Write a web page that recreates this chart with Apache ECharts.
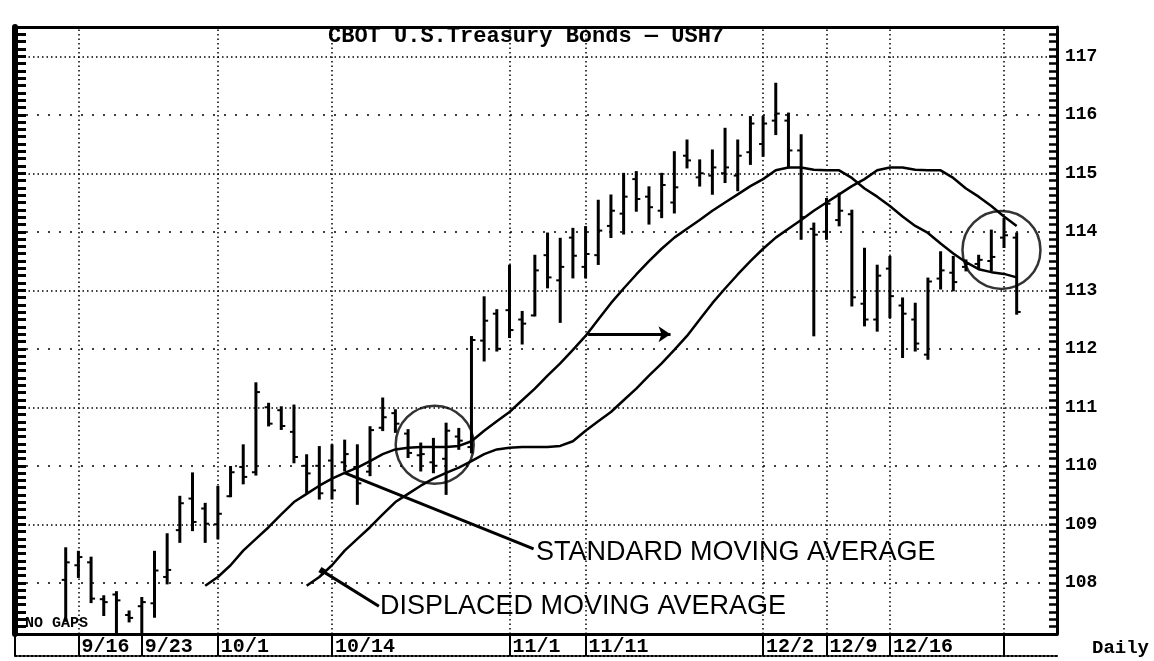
<!DOCTYPE html>
<html>
<head>
<meta charset="utf-8">
<title>CBOT U.S.Treasury Bonds — USH7</title>
<script src="https://cdn.jsdelivr.net/npm/echarts@6/dist/echarts.min.js"></script>
<style>
  html, body { margin: 0; padding: 0; background: #fff; }
  #chart { width: 1154px; height: 661px; }
</style>
</head>
<body>
<div id="chart"></div>
<script>
// trading days, one bar each (9/13 .. 12/31)
var dates = ['9/13',
  '9/16','9/17','9/18','9/19','9/20',
  '9/23','9/24','9/25','9/26','9/27',
  '9/30','10/1','10/2','10/3','10/4',
  '10/7','10/8','10/9','10/10','10/11',
  '10/14','10/15','10/16','10/17','10/18',
  '10/21','10/22','10/23','10/24','10/25',
  '10/28','10/29','10/30','10/31','11/1',
  '11/4','11/5','11/6','11/7','11/8',
  '11/11','11/12','11/13','11/14','11/15',
  '11/18','11/19','11/20','11/21','11/22',
  '11/25','11/26','11/27','11/29',
  '12/2','12/3','12/4','12/5','12/6',
  '12/9','12/10','12/11','12/12','12/13',
  '12/16','12/17','12/18','12/19','12/20',
  '12/23','12/24','12/26','12/27',
  '12/30','12/31'];

var opens = [108.05,108.30,108.35,107.72,107.80,107.45,107.60,107.65,108.10,108.90,
  109.44,109.27,109.00,109.48,109.98,109.89,111.00,110.95,110.58,110.00,
  110.00,110.09,110.06,109.98,109.90,110.65,110.90,110.55,110.18,110.06,
  110.12,110.50,110.32,112.14,112.60,112.66,112.50,112.57,113.60,113.17,
  113.90,113.40,113.60,114.10,114.31,114.90,114.60,114.36,114.50,115.30,
  114.93,114.96,115.00,114.96,115.36,115.50,115.90,115.90,115.39,114.05,
  114.00,114.20,114.30,112.77,112.50,113.37,112.74,112.50,111.90,113.20,
  113.30,113.40,113.45,113.50,113.90,113.90];
var highs = [108.59,108.53,108.43,107.77,107.84,107.51,107.74,108.53,108.83,109.47,
  109.87,109.35,109.64,109.98,110.35,111.41,111.06,111.00,111.03,110.18,
  110.32,110.35,110.43,110.35,110.66,111.15,110.95,110.61,110.38,110.46,
  110.72,110.63,112.20,112.88,112.66,113.42,112.63,113.59,113.97,113.88,
  114.05,114.08,114.53,114.62,114.99,115.02,114.76,114.99,115.36,115.56,
  115.22,115.39,115.76,115.56,115.96,115.96,116.53,116.02,115.65,114.14,
  114.56,114.65,114.36,113.71,113.42,113.57,112.86,112.77,113.20,113.65,
  113.57,113.51,113.59,114.02,114.22,113.97];
var lows = [107.35,108.10,107.67,107.45,107.15,107.34,107.15,107.42,107.99,108.70,
  108.90,108.70,108.76,109.48,109.70,109.85,110.69,110.63,110.06,109.55,
  109.44,109.44,109.92,109.35,109.84,110.61,110.58,110.15,109.92,109.89,
  109.52,110.29,110.23,111.80,111.97,112.20,112.09,112.57,113.05,112.46,
  113.22,113.22,113.45,113.91,113.97,114.36,114.14,114.25,114.33,115.10,
  114.79,114.65,114.85,114.71,115.16,115.30,115.67,115.10,113.88,112.23,
  113.88,114.11,112.74,112.40,112.31,112.54,111.86,111.97,111.83,113.03,
  113.00,113.34,113.37,113.34,113.74,112.60];
var closes = [108.35,108.44,107.73,107.67,107.70,107.40,107.67,108.21,108.22,109.36,
  109.04,109.01,109.18,109.89,109.81,111.26,110.72,110.68,110.15,109.87,
  109.53,109.58,110.20,109.70,110.61,110.83,110.72,110.22,110.20,110.00,
  110.60,110.43,112.15,112.48,112.00,112.32,112.43,113.34,113.22,113.40,
  113.59,113.62,114.02,114.36,114.60,114.56,114.42,114.80,114.76,115.22,
  115.00,115.10,115.10,115.30,115.85,115.85,116.02,115.39,114.25,113.95,
  114.48,114.36,112.88,112.50,113.25,112.90,112.60,112.09,113.15,113.34,
  113.14,113.45,113.52,113.57,113.94,112.63];

// standard moving average, first value on bar stdStart
var stdStart = 11;
var stdMA = [107.95,108.10,108.30,108.55,108.75,108.95,109.17,109.38,109.52,109.66,
  109.78,109.88,109.97,110.08,110.20,110.28,110.31,110.32,110.32,110.32,
  110.34,110.42,110.60,110.76,110.92,111.12,111.32,111.54,111.75,111.98,
  112.22,112.50,112.78,113.03,113.27,113.50,113.71,113.90,114.05,114.20,
  114.36,114.50,114.64,114.78,114.90,115.05,115.10,115.10,115.06,115.05,
  115.05,114.92,114.74,114.60,114.44,114.26,114.10,113.98,113.80,113.63,
  113.48,113.36,113.31,113.28,113.22];

// displaced moving average, first value on bar dispStart
var dispStart = 19;
var dispMA = [107.95,108.10,108.30,108.55,108.75,108.95,109.17,109.38,109.52,109.66,
  109.78,109.88,109.97,110.08,110.20,110.28,110.31,110.32,110.32,110.32,
  110.34,110.42,110.60,110.76,110.92,111.12,111.32,111.54,111.75,111.98,
  112.22,112.50,112.78,113.03,113.27,113.50,113.71,113.90,114.05,114.20,
  114.36,114.50,114.64,114.78,114.90,115.05,115.10,115.10,115.06,115.05,
  115.05,114.92,114.74,114.60,114.44,114.26,114.10];

var dateLabels = ['9/16','9/23','10/1','10/14','11/1','11/11','12/2','12/9','12/16'];
var boxEdges = ['12/30'];
var gridDates = ['9/16','10/1','10/14','11/1','11/11','12/2','12/9','12/16','12/30'];
var priceLinesDense = [109, 111, 113, 115, 117];
var priceLinesSparse = [108, 110, 112, 114, 116];

// annotations, in [bar index, price]
var circles = [[29.1, 110.36], [73.8, 113.69]];
var stdPointer = [[22, 109.88], [36.9, 108.58]];
var dispPointer = [[20.25, 108.2], [24.7, 107.6]];
var shiftArrow = [[41.2, 112.25], [47.7, 112.25]];

var MONO = "'Liberation Mono', 'DejaVu Sans Mono', monospace";
var SANS = "'Liberation Sans', Arial, sans-serif";

var chart = echarts.init(document.getElementById('chart'));

var barData = [];
for (var i = 0; i < dates.length; i++) {
  barData.push([i, opens[i], highs[i], lows[i], closes[i]]);
}
var stdData = stdMA.map(function (v, k) { return [stdStart + k, v]; });
var dispData = dispMA.map(function (v, k) { return [dispStart + k, v]; });

var labelIdx = dateLabels.map(function (d) { return dates.indexOf(d); });
var edgeIdx = [-4].concat(labelIdx, boxEdges.map(function (d) { return dates.indexOf(d); }));

var gridMarks = [];
gridDates.forEach(function (d) {
  gridMarks.push({ xAxis: dates.indexOf(d), lineStyle: { type: [1.5, 3] } });
});
priceLinesDense.forEach(function (p) {
  gridMarks.push({ yAxis: p, lineStyle: { type: [1.5, 3] } });
});
priceLinesSparse.forEach(function (p) {
  gridMarks.push({ yAxis: p, lineStyle: { type: [2, 9] } });
});

function renderBar(params, api) {
  var x = api.value(0);
  var pO = api.coord([x, api.value(1)]);
  var pH = api.coord([x, api.value(2)]);
  var pL = api.coord([x, api.value(3)]);
  var pC = api.coord([x, api.value(4)]);
  var thick = { stroke: '#000', lineWidth: 3 };
  var thin = { stroke: '#000', lineWidth: 2 };
  return {
    type: 'group',
    children: [
      { type: 'line', shape: { x1: pH[0], y1: pH[1] - 1, x2: pL[0], y2: pL[1] + 1 }, style: thick },
      { type: 'line', shape: { x1: pO[0] - 4, y1: pO[1], x2: pO[0], y2: pO[1] }, style: thin },
      { type: 'line', shape: { x1: pC[0], y1: pC[1], x2: pC[0] + 4, y2: pC[1] }, style: thin }
    ]
  };
}

var yBase = {
  type: 'value',
  min: 107.125,
  max: 117.5,
  interval: 0.125,
  splitLine: { show: false }
};

var option = {
  backgroundColor: '#fff',
  animation: false,
  title: [
    {
      text: 'CBOT U.S.Treasury Bonds — USH7',
      left: 328, top: 25, padding: 0,
      textStyle: { fontFamily: MONO, fontWeight: 'bold', fontSize: 22, lineHeight: 22, color: '#000' }
    },
    {
      text: 'NO GAPS',
      left: 25, top: 616, padding: 0,
      textStyle: { fontFamily: MONO, fontWeight: 'bold', fontSize: 15, lineHeight: 15, color: '#000' }
    },
    {
      text: 'STANDARD MOVING AVERAGE',
      left: 536, top: 539, padding: 0,
      textStyle: { fontFamily: SANS, fontWeight: 'normal', fontSize: 27, lineHeight: 27, color: '#000' }
    },
    {
      text: 'DISPLACED MOVING AVERAGE',
      left: 380, top: 593, padding: 0,
      textStyle: { fontFamily: SANS, fontWeight: 'normal', fontSize: 27, lineHeight: 27, color: '#000' }
    }
  ],
  grid: { left: 15, right: 97, top: 27, bottom: 27 },
  xAxis: [
    {
      type: 'value',
      position: 'bottom',
      min: -4,
      max: 78.18,
      axisLine: { show: true, onZero: false, lineStyle: { color: '#000', width: 3 } },
      axisTick: { show: true, inside: false, length: 22, customValues: edgeIdx, lineStyle: { color: '#000', width: 2 } },
      axisLabel: {
        show: true,
        customValues: labelIdx,
        align: 'left',
        margin: 3,
        padding: [0, 0, 0, 3],
        fontFamily: MONO, fontWeight: 'bold', fontSize: 20, color: '#000',
        formatter: function (v) { return dates[Math.round(v)] || ''; }
      },
      splitLine: { show: false },
      name: 'Daily',
      nameLocation: 'end',
      nameGap: 35,
      nameTextStyle: { fontFamily: MONO, fontWeight: 'bold', fontSize: 19, color: '#000', verticalAlign: 'top', padding: [5, 0, 0, 0] }
    },
    {
      type: 'value',
      position: 'bottom',
      offset: 22,
      min: -4,
      max: 78.18,
      axisLine: { show: true, onZero: false, lineStyle: { color: '#000', width: 2, type: [2, 2] } },
      axisTick: { show: false },
      axisLabel: { show: false },
      splitLine: { show: false }
    },
    {
      type: 'value',
      position: 'top',
      min: -4,
      max: 78.18,
      axisLine: { show: true, onZero: false, lineStyle: { color: '#000', width: 3 } },
      axisTick: { show: false },
      axisLabel: { show: false },
      splitLine: { show: false }
    }
  ],
  yAxis: [
    Object.assign({}, yBase, {
      position: 'right',
      axisLine: { show: true, onZero: false, lineStyle: { color: '#000', width: 3 } },
      axisTick: { show: true, inside: true, length: 8, lineStyle: { color: '#000', width: 2.5 } },
      axisLabel: {
        show: true,
        margin: 8,
        fontFamily: MONO, fontWeight: 'bold', fontSize: 18, color: '#000',
        formatter: function (v) {
          return Math.abs(v - Math.round(v)) < 1e-6 ? String(Math.round(v)) : '';
        }
      }
    }),
    Object.assign({}, yBase, {
      position: 'left',
      axisLine: { show: true, onZero: false, lineStyle: { color: '#000', width: 6 } },
      axisTick: { show: true, inside: true, length: 11, lineStyle: { color: '#000', width: 3 } },
      axisLabel: { show: false }
    })
  ],
  series: [
    {
      name: 'Standard MA',
      type: 'line',
      z: 2,
      data: stdData,
      showSymbol: false,
      symbol: 'none',
      lineStyle: { color: '#000', width: 2.5 },
      markLine: {
        silent: true,
        symbol: 'none',
        label: { show: false },
        lineStyle: { color: '#000', width: 1.5 },
        data: gridMarks
      }
    },
    {
      name: 'Displaced MA',
      type: 'line',
      z: 2,
      data: dispData,
      showSymbol: false,
      symbol: 'none',
      lineStyle: { color: '#000', width: 2.5 },
      markLine: {
        silent: true,
        symbol: 'none',
        label: { show: false },
        lineStyle: { color: '#000', width: 3, type: 'solid' },
        data: [
          [{ coord: stdPointer[0] }, { coord: stdPointer[1] }],
          [{ coord: dispPointer[0], symbol: 'rect', symbolSize: 6 }, { coord: dispPointer[1] }],
          [{ coord: shiftArrow[0] }, { coord: shiftArrow[1], symbol: 'arrow', symbolSize: 12 }]
        ]
      }
    },
    {
      name: 'USH7',
      type: 'custom',
      z: 3,
      renderItem: renderBar,
      encode: { x: 0, y: [1, 2, 3, 4] },
      data: barData
    },
    {
      name: 'circles',
      type: 'scatter',
      z: 4,
      symbol: 'circle',
      symbolSize: 78,
      itemStyle: { color: 'rgba(0,0,0,0)', borderColor: '#000', borderWidth: 2.5 },
      silent: true,
      data: circles
    }
  ]
};

chart.setOption(option);
</script>
</body>
</html>
